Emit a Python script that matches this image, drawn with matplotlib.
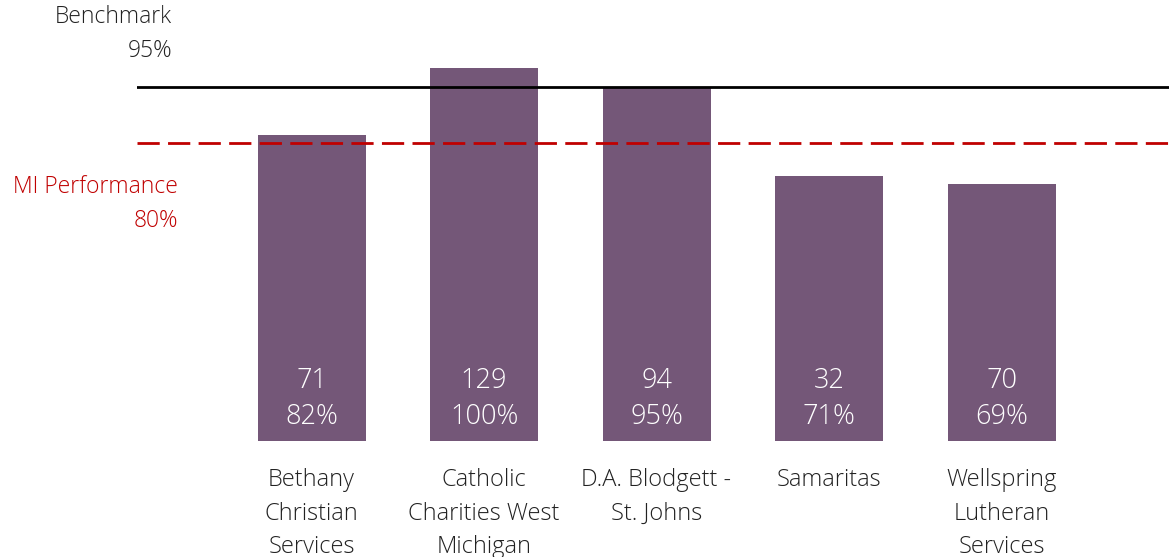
import matplotlib
matplotlib.use("Agg")
import matplotlib.pyplot as plt

# data
agencies = ["Bethany\nChristian\nServices", "Catholic\nCharities West\nMichigan",
            "D.A. Blodgett -\nSt. Johns", "Samaritas", "Wellspring\nLutheran\nServices"]
counts = [71, 129, 94, 32, 70]
pcts = [82, 100, 95, 71, 69]
benchmark = 95
mi_perf = 80

bar_color = "#745778"
red = "#C00000"

plt.rcParams["font.family"] = ["Open Sans", "DejaVu Sans"]

W, H = 1169, 557
fig = plt.figure(figsize=(W / 100, H / 100), dpi=100)
ax = fig.add_axes([137 / W, 116 / H, 1032 / W, 441 / H])

xs = list(range(len(agencies)))
ax.bar(xs, pcts, width=0.626, color=bar_color)
ax.set_xlim(-1.012, 4.971)
ax.set_ylim(0, 118.2)

ax.axhline(benchmark, color="black", lw=2)
ax.axhline(mi_perf, color=red, lw=2, dashes=(8, 3))

for x, c, p in zip(xs, counts, pcts):
    ax.text(x, 11.3, f"{c}\n{p}%", ha="center", va="center", color="white",
            fontsize=19.5, fontweight="light", linespacing=1.4)

for x, name in zip(xs, agencies):
    ax.text(x, -7.3, name, ha="center", va="top", color="#222222",
            fontsize=17, fontweight="light", linespacing=1.52)

fig.text(172 / W, 1 - 34 / H, f"Benchmark\n{benchmark}%", ha="right", va="center",
         fontsize=16.5, fontweight="light", color="#222222", linespacing=1.52)
fig.text(178 / W, 1 - 204 / H, f"MI Performance\n{mi_perf}%", ha="right", va="center",
         fontsize=16.5, fontweight="light", color=red, linespacing=1.52)

ax.axis("off")
fig.savefig("out.png", dpi=100)
